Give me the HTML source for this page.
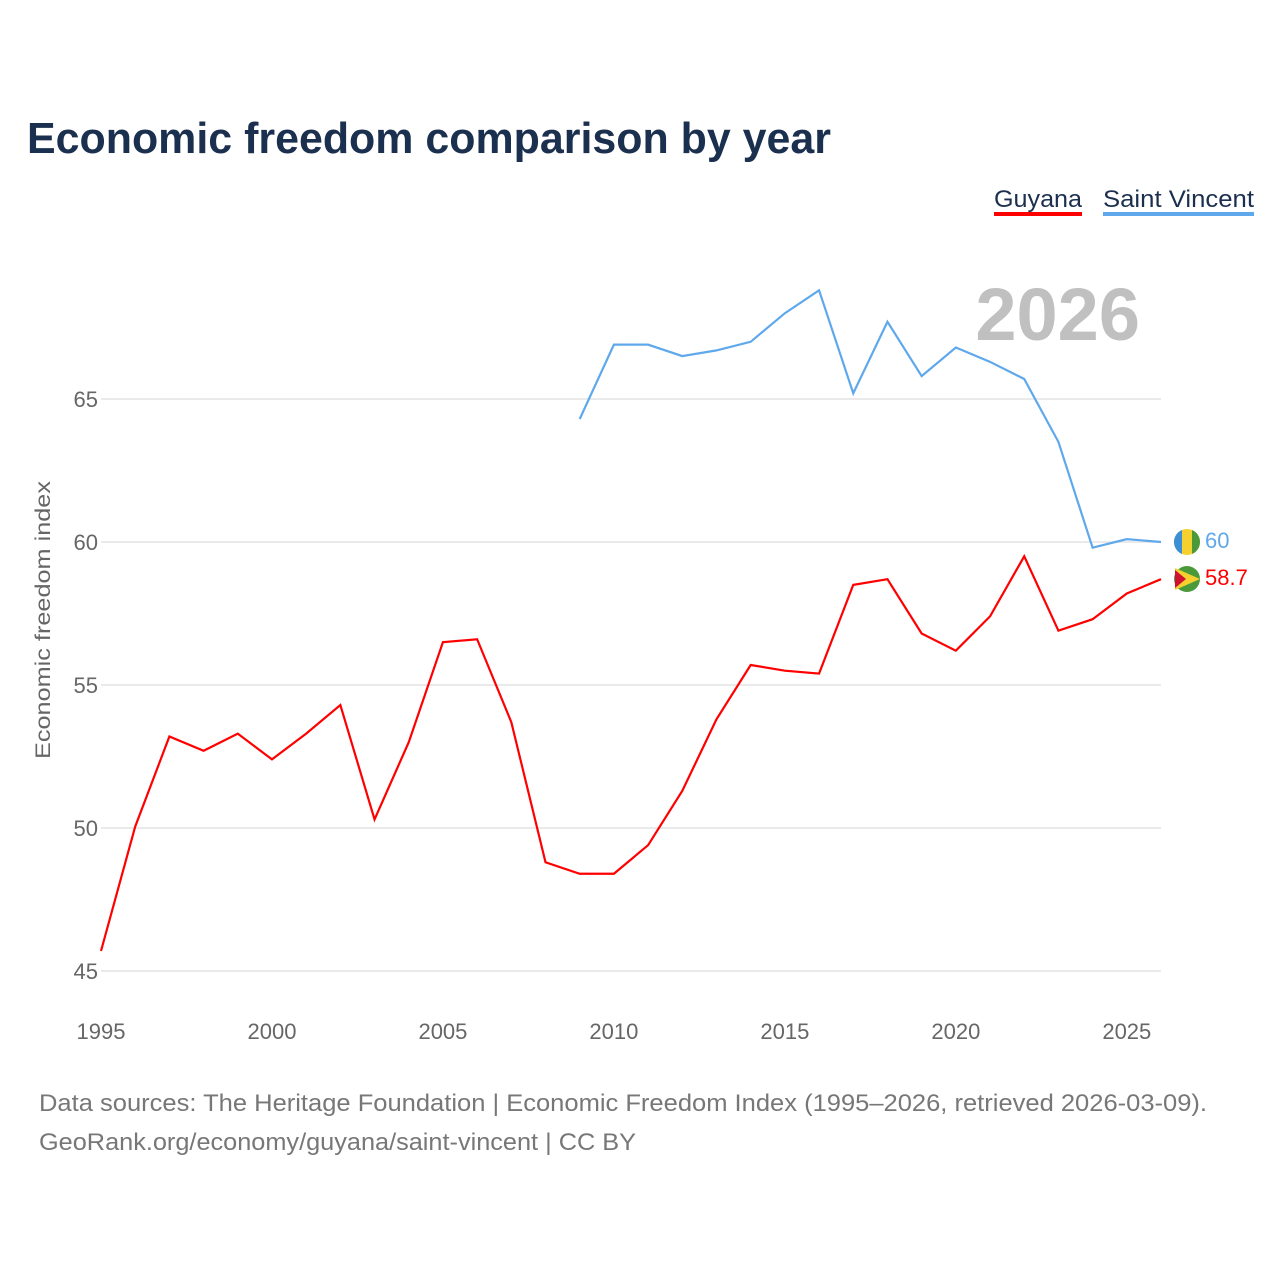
<!DOCTYPE html>
<html><head><meta charset="utf-8"><style>
body{margin:0;background:#fff;font-family:"Liberation Sans",sans-serif;}
</style></head><body>
<svg id="chart" width="1280" height="1280" xmlns="http://www.w3.org/2000/svg">
<text x="27" y="153" font-size="44" font-weight="bold" fill="#1b2f4e" textLength="804" lengthAdjust="spacingAndGlyphs">Economic freedom comparison by year</text>
<g>
<text x="994" y="207" font-size="24" fill="#1b2f4e" textLength="88" lengthAdjust="spacingAndGlyphs">Guyana</text>
<rect x="994" y="212" width="88" height="4" fill="#ff0000"/>
<text x="1103" y="207" font-size="24" fill="#1b2f4e" textLength="151" lengthAdjust="spacingAndGlyphs">Saint Vincent</text>
<rect x="1103" y="212" width="151" height="4" fill="#5fa8ec"/>
</g>
<text x="1140" y="340" text-anchor="end" font-size="74" font-weight="bold" fill="#c0c0c0">2026</text>
<text transform="translate(50,620) rotate(-90)" text-anchor="middle" font-size="21" fill="#666" textLength="278" lengthAdjust="spacingAndGlyphs">Economic freedom index</text>
<g id="grid"></g><g id="lines"></g>
<g>
<circle cx="1187" cy="542" r="13" fill="#f6d02f"/>
<path d="M1174,542 a13,13 0 0 1 8,-12 v24 a13,13 0 0 1 -8,-12z" fill="#3b8fd6"/>
<path d="M1192,530 a13,13 0 0 1 0,24z" fill="#4a9a3a"/>
<text x="1205" y="548" font-size="22" fill="#5fa8ec">60</text>
<circle cx="1187" cy="579" r="13" fill="#4a9a3a"/>
<path d="M1175,568 L1200,579 L1175,590z" fill="#f6d02f"/>
<path d="M1175,570 L1186,579 L1175,588z" fill="#d01030"/>
<text x="1205" y="585" font-size="22" fill="#ff0000">58.7</text>
</g>
<text x="39" y="1111" font-size="24" fill="#777" textLength="1168" lengthAdjust="spacingAndGlyphs">Data sources: The Heritage Foundation | Economic Freedom Index (1995–2026, retrieved 2026-03-09).</text>
<text x="39" y="1150" font-size="24" fill="#777" textLength="597" lengthAdjust="spacingAndGlyphs">GeoRank.org/economy/guyana/saint-vincent | CC BY</text>
</svg>
<script>
const years=[1995,1996,1997,1998,1999,2000,2001,2002,2003,2004,2005,2006,2007,2008,2009,2010,2011,2012,2013,2014,2015,2016,2017,2018,2019,2020,2021,2022,2023,2024,2025,2026];
const guyana=[45.7,50.05,53.2,52.7,53.3,52.4,53.3,54.3,50.3,53.0,56.5,56.6,53.7,48.8,48.4,48.4,49.4,51.3,53.8,55.7,55.5,55.4,58.5,58.7,56.8,56.2,57.4,59.5,56.9,57.3,58.2,58.7];
const svgYears=[2009,2010,2011,2012,2013,2014,2015,2016,2017,2018,2019,2020,2021,2022,2023,2024,2025,2026];
const saintVincent=[64.3,66.9,66.9,66.5,66.7,67.0,68.0,68.8,65.2,67.7,65.8,66.8,66.3,65.7,63.5,59.8,60.1,60.0];
const yTicks=[45,50,55,60,65];
const xTicks=[1995,2000,2005,2010,2015,2020,2025];
const NS="http://www.w3.org/2000/svg";
const xs=y=>101+(y-1995)*(1161-101)/31;
const ys=v=>971-(v-45)*28.6;
const grid=document.getElementById('grid'),lines=document.getElementById('lines');
yTicks.forEach(t=>{
 const l=document.createElementNS(NS,'line');
 l.setAttribute('x1',101);l.setAttribute('x2',1161);l.setAttribute('y1',ys(t));l.setAttribute('y2',ys(t));
 l.setAttribute('stroke','#e4e4e4');l.setAttribute('stroke-width',1.5);
 
 
 grid.appendChild(l);
 const tx=document.createElementNS(NS,'text');
 tx.setAttribute('x',98);tx.setAttribute('y',ys(t)+8);tx.setAttribute('text-anchor','end');
 tx.setAttribute('font-size',22);tx.setAttribute('fill','#666');tx.textContent=t;
 
 
 grid.appendChild(tx);
});
xTicks.forEach(t=>{
 const tx=document.createElementNS(NS,'text');
 tx.setAttribute('x',xs(t));tx.setAttribute('y',1039);tx.setAttribute('text-anchor','middle');
 tx.setAttribute('font-size',22);tx.setAttribute('fill','#666');tx.textContent=t;
 
 
 grid.appendChild(tx);
});
function line(xv,yv,color,name){
 const p=document.createElementNS(NS,'polyline');
 p.setAttribute('points',xv.map((x,i)=>xs(x)+','+ys(yv[i])).join(' '));
 p.setAttribute('fill','none');p.setAttribute('stroke',color);p.setAttribute('stroke-width',2.2);
 
 
 lines.appendChild(p);
}
line(years,guyana,'#ff0000','guyana-line');
line(svgYears,saintVincent,'#5fa8ec','saint-vincent-line');
</script>
</body></html>
